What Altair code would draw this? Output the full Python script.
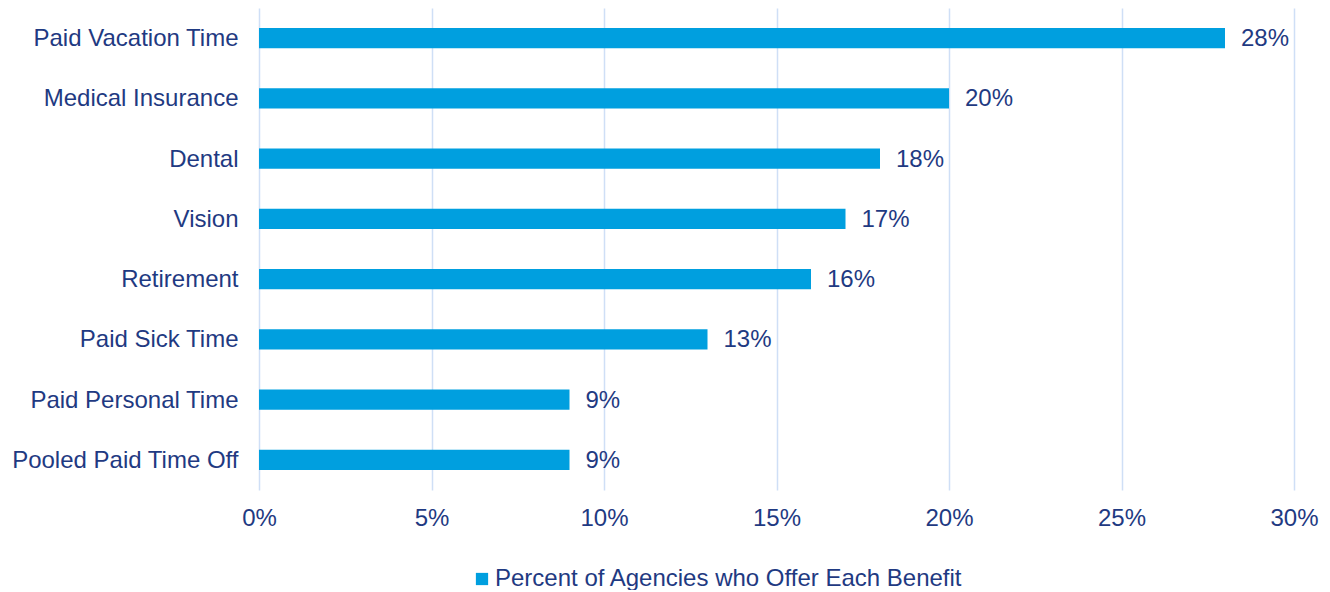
import altair as alt
import pandas as pd

categories = ["Paid Vacation Time", "Medical Insurance", "Dental", "Vision\u2002",
              "Retirement", "Paid Sick Time", "Paid Personal Time", "Pooled Paid Time Off"]
values = [0.28, 0.20, 0.18, 0.17, 0.16, 0.13, 0.09, 0.09]
series_name = "Percent of Agencies who Offer Each Benefit"
x_ticks = [0, 0.05, 0.10, 0.15, 0.20, 0.25, 0.30]

df = pd.DataFrame({"benefit": categories, "pct": values, "series": series_name})

BAR = "#009FDF"
NAVY = "#1F3A82"
GRID = "#CFDFF6"
FONT = "Liberation Sans"
FS = 24

base = alt.Chart(df).encode(
    y=alt.Y("benefit:N", sort=categories, title=None,
            scale=alt.Scale(paddingInner=0.66, paddingOuter=0.33),
            axis=alt.Axis(domain=False, ticks=False, grid=False, labelFontSize=FS,
                          labelColor=NAVY, labelFont=FONT, labelPadding=21,
                          labelLimit=400, labelBaseline="middle", labelOffset=1)),
)

bars = base.mark_bar(color=BAR).encode(
    x=alt.X("pct:Q", title=None,
            scale=alt.Scale(domain=[0, 0.30], nice=False),
            axis=alt.Axis(values=x_ticks, format=".0%", domain=False, ticks=False,
                          grid=True, gridColor=GRID, gridWidth=1.5,
                          labelFlush=False,
                          labelFontSize=FS, labelColor=NAVY, labelFont=FONT,
                          labelPadding=16)),
    color=alt.Color("series:N", title=None,
                    scale=alt.Scale(domain=[series_name], range=[BAR]),
                    legend=alt.Legend(orient="none", legendX=211, legendY=559,
                                      symbolType="square", symbolSize=150,
                                      symbolStrokeWidth=0,
                                      labelFontSize=FS, labelColor=NAVY,
                                      labelFont=FONT, labelOffset=1,
                                      labelLimit=600)),
)

labels = base.mark_text(align="left", baseline="middle", dx=16, dy=1, fontSize=FS,
                        color=NAVY, font=FONT).encode(
    x=alt.X("pct:Q"),
    text=alt.Text("pct:Q", format=".0%"),
)

chart = (bars + labels).properties(
    width=1035, height=482,
    background="white",
    autosize=alt.AutoSizeParams(type="none"),
    padding={"left": 251, "top": 0, "right": 28, "bottom": 100},
).configure_view(stroke=None)

chart.save("out.html", embed_options={"renderer": "svg", "actions": False})
